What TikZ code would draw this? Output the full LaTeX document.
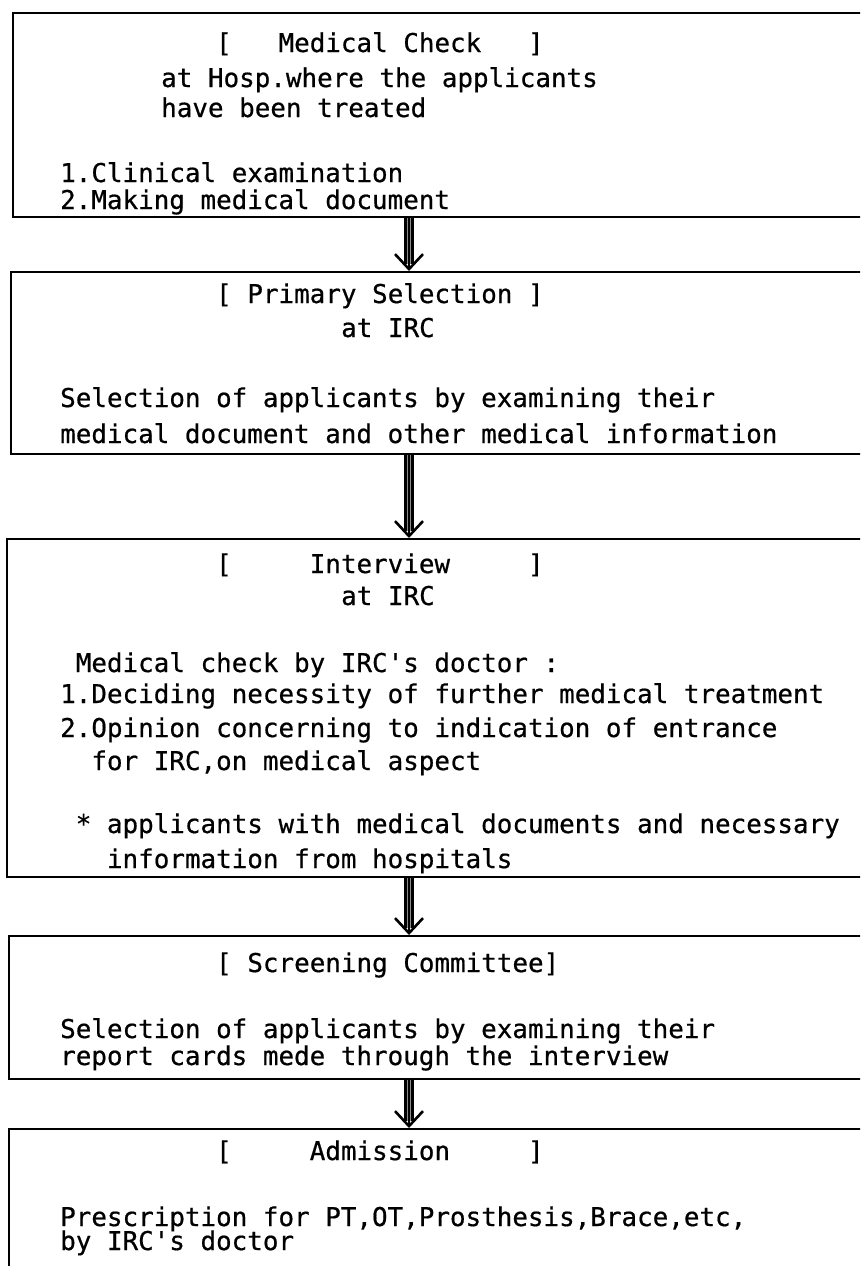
\documentclass[tikz,border=0pt]{standalone}
\usepackage{fontspec}
\newfontfamily\printfont[FakeBold=0.6]{DejaVu Sans Mono}
\usetikzlibrary{arrows.meta}

\tikzset{
  stage/.style={draw, rectangle, line width=2.4pt, inner sep=0pt,
    anchor=north west, minimum width=865pt},
  line/.style={anchor=base west, inner sep=0pt,
    font=\printfont\fontsize{25.9pt}{30pt}\selectfont},
  shaft/.style={draw, double=black!45, double distance=4pt, line width=3pt,
    shorten >=7pt},
  head/.style={draw, line width=2.6pt, -{Straight Barb[length=15pt,width=28pt]}}
}

\begin{document}
\begin{tikzpicture}[x=1pt,y=-1pt]

        \useasboundingbox (0,0) rectangle (860,1266);
        \fill[white] (0,0) rectangle (860,1266);
        \clip (0,0) rectangle (860,1266);
        \coordinate (ax) at (409,0);

        \begin{scope}[every node/.style={stage}]
          \node[minimum height=204pt] (check)     at (12,12)   {};
          \node[minimum height=182pt] (primary)   at (10,271)  {};
          \node[minimum height=338pt] (interview) at (6,538)   {};
          \node[minimum height=143pt] (screening) at (8,935)   {};
          \node[minimum height=170pt] (admission) at (8,1128)  {};
        \end{scope}

        \begin{scope}[every node/.style={line}]
          % medical check
          \node (check-1)  at (216,52)   {[~~~Medical Check~~~]};
          \node (check-2)  at (161,87)   {at Hosp.where the applicants};
          \node (check-3)  at (161,117)  {have been treated};
          \node (check-4)  at (60,182)   {1.Clinical examination};
          \node (check-5)  at (60,209)   {2.Making medical document};
          % primary selection
          \node (prim-1)   at (216,303)  {[ Primary Selection ]};
          \node (prim-2)   at (341,337)  {at IRC};
          \node (prim-3)   at (60,407)   {Selection of applicants by examining their};
          \node (prim-4)   at (60,443)   {medical document and other medical information};
          % interview
          \node (int-1)    at (216,573)  {[~~~~~Interview~~~~~]};
          \node (int-2)    at (341,605)  {at IRC};
          \node (int-3)    at (75.6,672) {Medical check by IRC's doctor :};
          \node (int-4)    at (60,703)   {1.Deciding necessity of further medical treatment};
          \node (int-5)    at (60,737)   {2.Opinion concerning to indication of entrance};
          \node (int-6)    at (91.2,770) {for IRC,on medical aspect};
          \node (int-7)    at (75.6,833) {* applicants with medical documents and necessary};
          \node (int-8)    at (106.8,868){information from hospitals};
          % screening committee
          \node (scr-1)    at (216,972)  {[ Screening Committee]};
          \node (scr-2)    at (60,1038)  {Selection of applicants by examining their};
          \node (scr-3)    at (60,1065)  {report cards mede through the interview};
          % admission
          \node (adm-1)    at (216,1160) {[~~~~~Admission~~~~~]};
          \node (adm-2)    at (60,1226)  {Prescription for PT,OT,Prosthesis,Brace,etc,};
          \node (adm-3)    at (60,1250)  {by IRC's doctor};
        \end{scope}

        \path (check.south -| ax)     edge[shaft] (primary.north -| ax)
                                      edge[head]  (primary.north -| ax);
        \path (primary.south -| ax)   edge[shaft] (interview.north -| ax)
                                      edge[head]  (interview.north -| ax);
        \path (interview.south -| ax) edge[shaft] (screening.north -| ax)
                                      edge[head]  (screening.north -| ax);
        \path (screening.south -| ax) edge[shaft] (admission.north -| ax)
                                      edge[head]  (admission.north -| ax);

\end{tikzpicture}
\end{document}
